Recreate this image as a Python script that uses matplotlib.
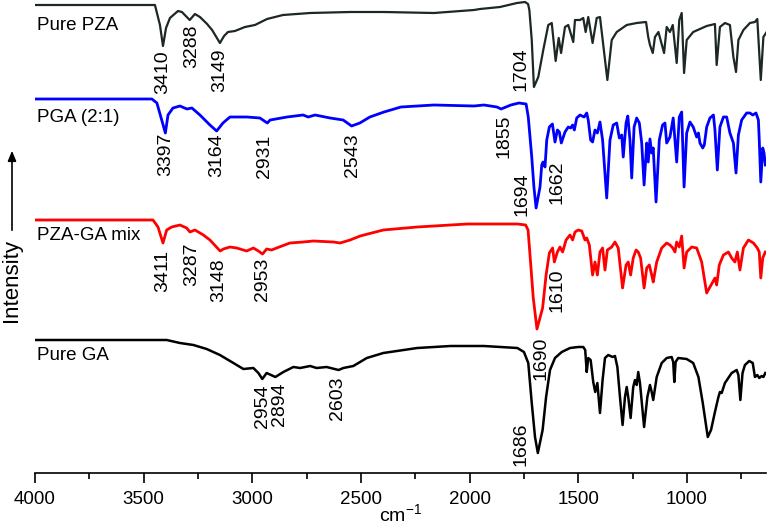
import numpy as np
import matplotlib
matplotlib.use('Agg')
import matplotlib.pyplot as plt
from matplotlib.ticker import MultipleLocator

plt.rcParams['font.family'] = ['Liberation Sans', 'DejaVu Sans']

# -- spectra (wavenumber in cm-1, intensity in a.u., already stacked) -- #
pza_wn = [4000, 3448, 3425, 3411, 3397, 3379, 3342, 3324, 3288, 3264, 3241, 3208, 3185, 3149,
          3130, 3112, 3080, 3034, 2988, 2932, 2859, 2734, 2550, 2394, 2164, 1980, 1952, 1860,
          1782, 1745, 1731, 1725, 1714, 1704, 1684, 1661, 1638, 1622, 1604, 1590, 1579, 1561,
          1546, 1523, 1515, 1492, 1477, 1466, 1454, 1434, 1415, 1400, 1366, 1346, 1323, 1277,
          1231, 1188, 1178, 1170, 1157, 1147, 1131, 1105, 1093, 1078, 1065, 1047, 1035, 1024,
          1013, 1001, 971, 909, 871, 863, 848, 825, 802, 786, 774, 763, 740, 710, 687, 676,
          660, 648, 633]
pza_int = [468, 468, 448, 427, 445, 455, 462, 461, 453, 459, 456, 449, 443, 430,
           437, 441, 442, 446, 448, 454, 458, 460, 461, 461, 460, 463, 464, 466,
           470, 471, 469, 463, 433, 386, 396, 423, 448, 450, 412, 435, 420, 446,
           448, 431, 453, 453, 455, 441, 456, 430, 455, 456, 393, 433, 441, 448,
           450, 451, 436, 428, 420, 436, 441, 420, 446, 441, 448, 410, 453, 460,
           400, 433, 441, 447, 449, 408, 446, 450, 448, 416, 401, 433, 443, 450, 451, 454,
           393, 436, 441]

pga_wn = [4000, 3462, 3439, 3400, 3388, 3365, 3333, 3301, 3278, 3241, 3195, 3164, 3135, 3103,
          3025, 2965, 2931, 2918, 2840, 2766, 2743, 2711, 2642, 2582, 2543, 2505, 2459, 2394,
          2316, 2164, 1980, 1934, 1874, 1855, 1810, 1773, 1740, 1730, 1714, 1704, 1694, 1676,
          1668, 1662, 1653, 1645, 1633, 1619, 1607, 1596, 1587, 1578, 1561, 1546, 1535, 1526,
          1518, 1507, 1492, 1473, 1461, 1454, 1443, 1434, 1423, 1412, 1400, 1388, 1369, 1354,
          1339, 1323, 1311, 1300, 1293, 1280, 1272, 1262, 1254, 1243, 1231, 1219, 1208, 1197,
          1185, 1178, 1170, 1162, 1155, 1142, 1127, 1112, 1101, 1093, 1078, 1063, 1047, 1035,
          1024, 1013, 1001, 986, 971, 955, 947, 940, 927, 920, 909, 894, 878, 871, 860, 848,
          832, 817, 802, 786, 774, 763, 748, 725, 710, 697, 682, 671, 667, 660, 651, 645, 639]
pga_int = [374, 374, 370, 340, 358, 365, 367, 364, 365, 358, 348, 342, 350, 356,
           356, 355, 350, 353, 356, 358, 356, 358, 355, 353, 347, 350, 356, 361,
           366, 368, 367, 368, 366, 364, 368, 370, 369, 356, 316, 286, 265, 286,
           308, 311, 306, 333, 346, 349, 331, 343, 341, 330, 341, 346, 345, 348,
           343, 355, 358, 356, 360, 353, 333, 331, 343, 340, 351, 333, 275, 333,
           348, 350, 335, 338, 316, 350, 357, 333, 295, 346, 355, 350, 330, 288,
           330, 311, 334, 320, 325, 271, 333, 348, 350, 330, 336, 355, 311, 356,
           361, 286, 340, 351, 346, 336, 340, 330, 325, 328, 346, 355, 358, 343, 303, 346,
           356, 356, 340, 330, 300, 338, 353, 360, 360, 358, 360, 353, 333, 291, 325, 320, 308]

mix_wn = [4000, 3457, 3434, 3411, 3394, 3371, 3333, 3302, 3287, 3264, 3225, 3195, 3148, 3133,
          3103, 3072, 3026, 2995, 2972, 2953, 2934, 2911, 2888, 2827, 2765, 2719, 2627, 2596,
          2550, 2504, 2397, 2241, 2010, 1780, 1742, 1731, 1722, 1707, 1690, 1664, 1648, 1633,
          1618, 1610, 1596, 1584, 1572, 1556, 1538, 1526, 1515, 1500, 1484, 1469, 1461, 1449,
          1434, 1423, 1412, 1400, 1388, 1377, 1366, 1346, 1331, 1316, 1296, 1280, 1270, 1259,
          1247, 1234, 1224, 1213, 1197, 1185, 1173, 1162, 1155, 1139, 1116, 1093, 1078, 1065,
          1055, 1047, 1035, 1024, 1013, 1001, 978, 955, 932, 909, 894, 881, 871, 863, 851,
          832, 809, 794, 779, 768, 756, 740, 717, 694, 676, 667, 660, 651, 639]
mix_int = [253, 253, 246, 230, 243, 246, 248, 245, 241, 243, 238, 233, 222, 224,
           226, 225, 222, 225, 222, 219, 224, 223, 225, 230, 231, 232, 231, 230,
           233, 237, 243, 246, 249, 249, 248, 243, 218, 175, 144, 165, 198, 220,
           225, 211, 221, 226, 221, 233, 238, 233, 241, 243, 242, 233, 235, 228,
           198, 211, 198, 221, 225, 203, 223, 226, 231, 225, 185, 208, 211, 198,
           215, 223, 221, 215, 185, 205, 208, 198, 191, 211, 225, 230, 228, 225,
           221, 231, 226, 237, 205, 221, 226, 225, 211, 180, 186, 191, 195, 188, 208,
           218, 221, 215, 211, 221, 203, 225, 233, 230, 225, 221, 195, 215, 221]

ga_wn = [4000, 3394, 3333, 3271, 3210, 3149, 3087, 3041, 2995, 2972, 2954, 2934, 2894, 2857,
         2811, 2780, 2734, 2704, 2658, 2603, 2581, 2535, 2473, 2397, 2241, 2087, 1934, 1780,
         1750, 1730, 1714, 1699, 1686, 1664, 1648, 1630, 1607, 1576, 1538, 1500, 1477, 1468,
         1461, 1454, 1443, 1431, 1422, 1412, 1400, 1388, 1377, 1362, 1342, 1331, 1320, 1308,
         1296, 1285, 1277, 1270, 1259, 1247, 1239, 1231, 1224, 1216, 1197, 1182, 1170, 1162,
         1155, 1139, 1116, 1093, 1070, 1063, 1058, 1052, 1040, 1001, 971, 947, 927, 904, 889,
         871, 855, 848, 840, 825, 794, 771, 763, 754, 744, 733, 713, 697, 687, 676, 667,
         656, 648, 639]
ga_int = [133, 133, 130, 128, 124, 118, 110, 104, 105, 100, 94, 100, 96, 101,
          106, 105, 107, 105, 106, 103, 105, 107, 115, 120, 125, 127, 127, 125,
          121, 110, 70, 36, 20, 43, 76, 103, 115, 121, 125, 126, 126, 123,
          101, 115, 113, 91, 81, 90, 60, 93, 115, 118, 116, 117, 106, 76,
          48, 76, 86, 76, 55, 86, 93, 88, 101, 90, 46, 76, 88, 81,
          73, 96, 110, 115, 116, 111, 91, 111, 115, 114, 110, 96, 70, 36, 43,
          61, 76, 81, 80, 90, 100, 103, 98, 73, 100, 108, 112, 110, 96, 98, 95,
          97, 96, 100]

names = ['Pure PZA', 'PGA (2:1)', 'PZA-GA mix', 'Pure GA']
colors = ['#1c2826', '#0000ff', '#ff0000', '#000000']

pza_peaks = ['3410', '3288', '3149', '1704']
pga_peaks = ['3397', '3164', '2931', '2543', '1855', '1694', '1662']
mix_peaks = ['3411', '3287', '3148', '2953', '1610', '1690']
ga_peaks = ['2954', '2894', '2603', '1686']

# -- figure -- #
fig = plt.figure(figsize=(7.68, 5.29), dpi=100)
ax = fig.add_axes([35/768, 56/529, 731/768, 473/529])

series = [(pza_wn, pza_int), (pga_wn, pga_int), (mix_wn, mix_int), (ga_wn, ga_int)]
widths = [1.6, 2.0, 2.0, 1.8]
for (wn, inten), c, lw in zip(series, colors, widths):
    ax.plot(wn, inten, color=c, lw=lw, solid_joinstyle='round')

ax.set_xlim(4000, 636)
ax.set_ylim(0, 473)

# trace names
name_y = [448, 355, 238, 118]
for n, y in zip(names, name_y):
    ax.text(3992, y, n, ha='left', va='center', fontsize=13.5)

# peak labels (x position, top of text)
pos = {
    0: [(3411, 423), (3277, 448), (3149, 425), (1763, 426)],
    1: [(3397, 340), (3162, 340), (2942, 338), (2537, 340), (1842, 358), (1759, 300), (1598, 313)],
    2: [(3411, 223), (3277, 231), (3153, 215), (2955, 215), (1598, 205), (1671, 136)],
    3: [(2955, 88), (2873, 91), (2610, 96), (1763, 51)],
}
for i, labs in enumerate([pza_peaks, pga_peaks, mix_peaks, ga_peaks]):
    for lab, (x, y) in zip(labs, pos[i]):
        ax.text(x, y, lab, rotation=90, ha='center', va='top', fontsize=14)

# axes styling
for s in ['left', 'right', 'top']:
    ax.spines[s].set_visible(False)
ax.spines['bottom'].set_linewidth(1.2)
ax.set_yticks([])
ax.xaxis.set_major_locator(MultipleLocator(500))
ax.xaxis.set_minor_locator(MultipleLocator(250))
ax.tick_params(axis='x', which='major', direction='out', length=7, width=1.2, labelsize=13.5, pad=6)
ax.tick_params(axis='x', which='minor', direction='out', length=4, width=1.2)
ax.set_xlabel(r'cm$^{\mathregular{-1}}$', fontsize=14, labelpad=-3)

# intensity label with arrow
fig.text(12/768, 1 - 280/529, 'Intensity', rotation=90, ha='center', va='center', fontsize=16)
fig.add_artist(matplotlib.patches.FancyArrowPatch((12/768, 1 - 233/529), (12/768, 1 - 148/529),
               transform=fig.transFigure, arrowstyle='-|>,head_length=6,head_width=2.5',
               color='k', lw=1.2))

fig.savefig('out.png', dpi=100)
